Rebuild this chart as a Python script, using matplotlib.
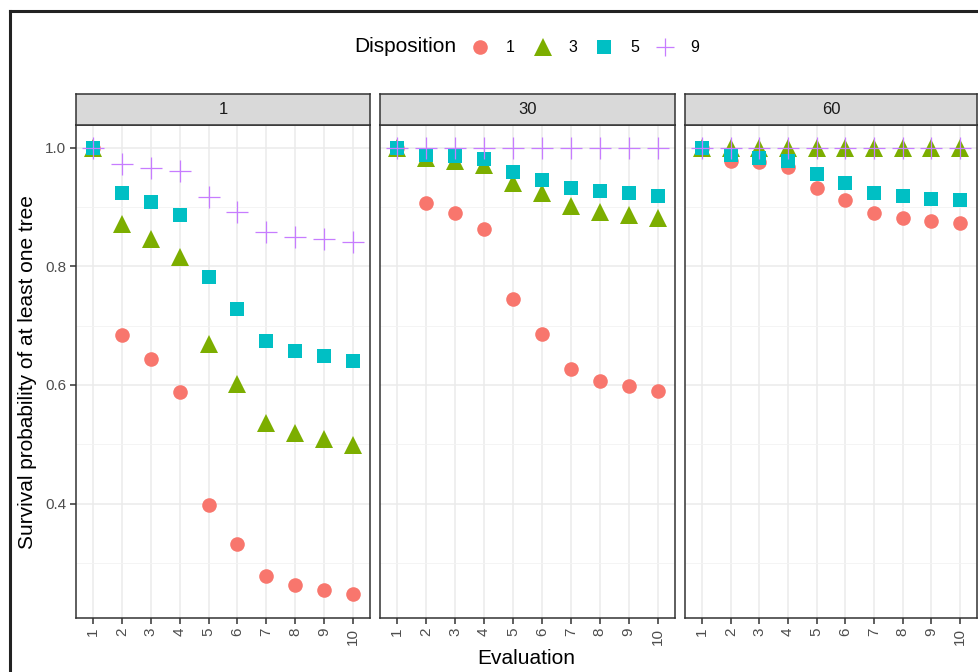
import matplotlib
matplotlib.use("Agg")
import matplotlib.pyplot as plt
from matplotlib.lines import Line2D

plt.rcParams['font.family'] = ['Liberation Sans', 'DejaVu Sans']

evaluation = list(range(1, 11))
facets = ["1", "30", "60"]
dispositions = ["1", "3", "5", "9"]

# survival probability per facet, per disposition
surv = {
    "1": {
        "1": [1.0, 0.684, 0.644, 0.588, 0.397, 0.331, 0.277, 0.262, 0.254, 0.247],
        "3": [1.0, 0.871, 0.845, 0.815, 0.669, 0.602, 0.536, 0.519, 0.509, 0.499],
        "5": [1.0, 0.923, 0.908, 0.886, 0.782, 0.728, 0.674, 0.657, 0.649, 0.640],
        "9": [1.0, 0.973, 0.966, 0.960, 0.916, 0.891, 0.857, 0.850, 0.845, 0.840],
    },
    "30": {
        "1": [1.0, 0.906, 0.889, 0.862, 0.745, 0.686, 0.627, 0.607, 0.598, 0.590],
        "3": [0.999, 0.983, 0.978, 0.971, 0.940, 0.924, 0.901, 0.892, 0.887, 0.882],
        "5": [1.0, 0.988, 0.985, 0.980, 0.958, 0.945, 0.931, 0.926, 0.923, 0.919],
        "9": [1.0, 1.0, 1.0, 1.0, 1.0, 1.0, 1.0, 1.0, 1.0, 1.0],
    },
    "60": {
        "1": [1.0, 0.978, 0.975, 0.968, 0.931, 0.911, 0.889, 0.881, 0.876, 0.872],
        "3": [1.0, 1.0, 1.0, 1.0, 1.0, 1.0, 1.0, 1.0, 1.0, 1.0],
        "5": [1.0, 0.987, 0.983, 0.978, 0.955, 0.940, 0.924, 0.918, 0.914, 0.911],
        "9": [1.0, 1.0, 1.0, 1.0, 1.0, 1.0, 1.0, 1.0, 1.0, 1.0],
    },
}

colors = {"1": "#F8766D", "3": "#7CAE00", "5": "#00BFC4", "9": "#C77CFF"}
markers = {"1": "o", "3": "^", "5": "s", "9": "+"}
msizes = {"1": 10.5, "3": 12.5, "5": 9.5, "9": 16}

W, H = 979, 672
fig = plt.figure(figsize=(W / 100, H / 100), dpi=100)

def px(x0, y0, x1, y1):
    return [x0 / W, 1 - y1 / H, (x1 - x0) / W, (y1 - y0) / H]

panels = [(76, 370), (380, 675), (685, 977)]
ptop, pbot, stop = 125, 618, 94

for i, (f, (x0, x1)) in enumerate(zip(facets, panels)):
    ax = fig.add_axes(px(x0, ptop, x1, pbot))
    ax.set_xlim(0.4, 10.6)
    ax.set_ylim(0.207, 1.038)
    ax.set_xticks(evaluation)
    ax.set_xticklabels([str(e) for e in evaluation], rotation=90)
    ax.set_yticks([0.4, 0.6, 0.8, 1.0])
    ax.set_yticks([0.3, 0.5, 0.7, 0.9], minor=True)
    ax.grid(True, which='major', color='#EBEBEB', lw=1.1)
    ax.grid(True, which='minor', axis='y', color='#F3F3F3', lw=0.6)
    ax.set_axisbelow(True)
    for s in ax.spines.values():
        s.set_color('#333333')
        s.set_linewidth(1.1)
    ax.tick_params(axis='both', which='major', length=4, width=1.1, color='#333333',
                   labelsize=11, labelcolor='#4D4D4D', pad=3)
    ax.tick_params(axis='both', which='minor', length=0)
    if i == 0:
        ax.yaxis.set_major_formatter(matplotlib.ticker.FormatStrFormatter('%.1f'))
    else:
        ax.tick_params(axis='y', which='major', labelleft=False, length=0)

    for d in dispositions:
        kw = dict(ls='none', marker=markers[d], color=colors[d], ms=msizes[d])
        if d == "9":
            kw['mew'] = 0.9
        else:
            kw['mew'] = 0
        ax.plot(evaluation, surv[f][d], **kw)

    sax = fig.add_axes(px(x0, stop, x1, ptop))
    sax.set_facecolor('#D9D9D9')
    sax.set_xticks([])
    sax.set_yticks([])
    for s in sax.spines.values():
        s.set_color('#333333')
        s.set_linewidth(1.1)
    sax.text(0.5, 0.5, f, ha='center', va='center', fontsize=12, color='#1A1A1A',
             transform=sax.transAxes)

fig.text(28 / W, 1 - 372 / H, "Survival probability of at least one tree", rotation=90,
         ha='center', va='center', fontsize=15)
fig.text((76 + 977) / 2 / W, 1 - 658 / H, "Evaluation", ha='center', va='center', fontsize=15)

# legend
fig.text(354 / W, 1 - 47 / H, "Disposition", ha='left', va='center', fontsize=15)
leg_pos = [(480, 510), (543, 573), (604, 635), (665, 695)]
leg_ms = {"1": 10.5, "3": 12.5, "5": 9.5, "9": 13}
for d, (mx, tx) in zip(dispositions, leg_pos):
    kw = dict(ls='none', marker=markers[d], color=colors[d], ms=leg_ms[d],
              mew=0.9 if d == "9" else 0)
    fig.add_artist(Line2D([mx / W], [1 - 47 / H], transform=fig.transFigure, **kw))
    fig.text(tx / W, 1 - 47 / H, d, ha='center', va='center', fontsize=11.5)

# screenshot frame
fig.add_artist(Line2D([10 / W, 1], [1 - 11 / H, 1 - 11 / H], transform=fig.transFigure,
                      color='#222222', lw=2.2))
fig.add_artist(Line2D([10 / W, 10 / W], [0, 1 - 11 / H], transform=fig.transFigure,
                      color='#222222', lw=2.2))

fig.savefig("out.png", dpi=100)
